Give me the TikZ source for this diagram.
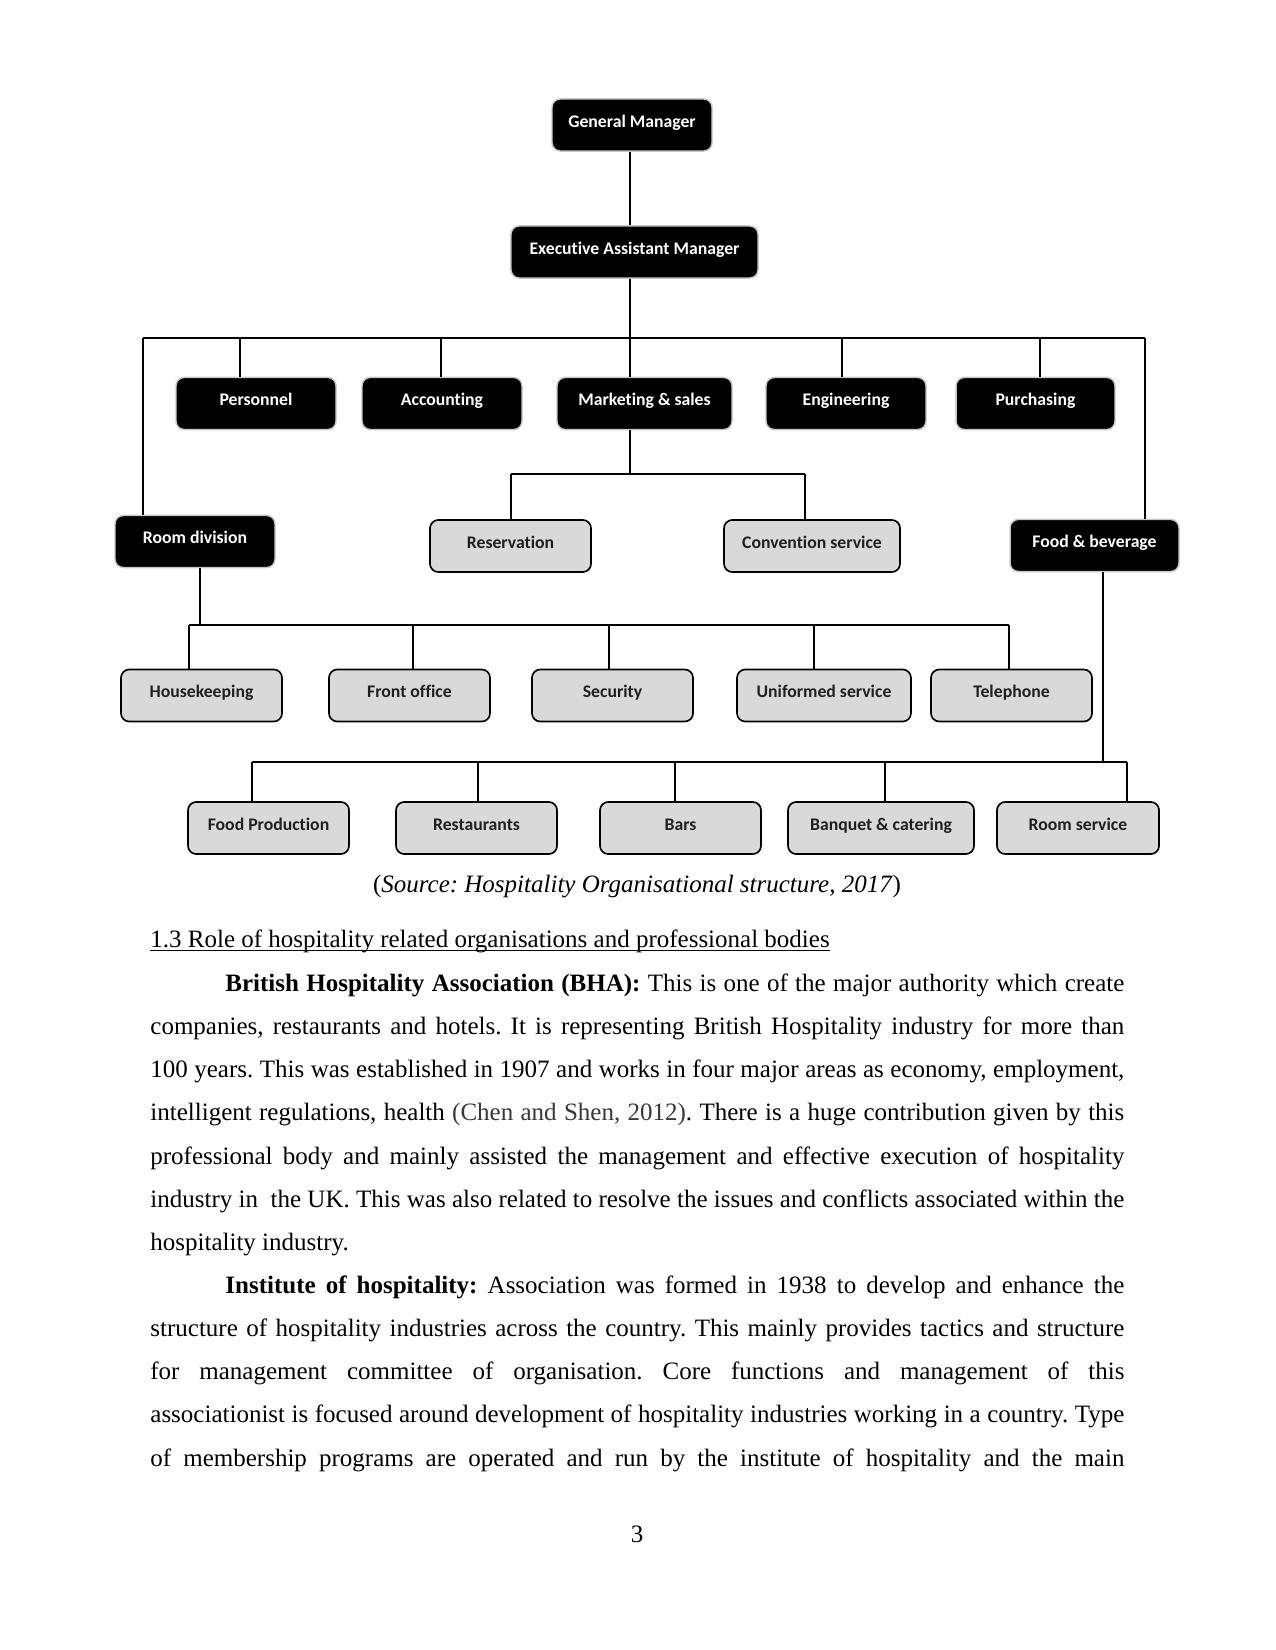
\documentclass[tikz,border=0pt]{standalone}
\usepackage{fontspec}
\setmainfont{Liberation Serif}
\newfontfamily\boxfont[Ligatures=NoCommon]{Carlito}
\begin{document}
\frenchspacing
\begin{tikzpicture}[x=0.48pt,y=-0.48pt,
  base/.style={rounded corners=4pt, minimum height=25pt, text height=6pt, text depth=4pt, inner sep=0pt,
    font=\boxfont\bfseries\fontsize{8.5}{10}\selectfont},
  dark/.style={base, fill=black, draw=black!22, line width=0.7pt, text=white},
  light/.style={base, fill=black!15, draw=black, line width=0.8pt, text=black!88},
  link/.style={draw=black, line width=0.7pt},
  textline/.style={anchor=base west, inner sep=0pt, font=\fontsize{12}{14}\selectfont\frenchspacing}
]
\useasboundingbox[fill=white] (0,0) rectangle (1275,1650);

% level 0-1
\node[dark, minimum width=76.8pt] (gm) at (632,125) {General Manager};
\node[dark, minimum width=118.6pt] (eam) at (634.5,252) {Executive Assistant Manager};
% level 2
\node[dark, minimum width=76.8pt] (pers) at (256,403.5) {Personnel};
\node[dark, minimum width=76.8pt] (acc) at (442,403.5) {Accounting};
\node[dark, minimum width=84pt] (mkt) at (644.5,403.5) {Marketing \& sales};
\node[dark, minimum width=76.8pt] (eng) at (846,403.5) {Engineering};
\node[dark, minimum width=76.3pt] (pur) at (1035.5,403.5) {Purchasing};
% level 3
\node[dark, minimum width=76.8pt] (room) at (195,541.5) {Room division};
\node[light, minimum width=77.3pt] (res) at (510.5,546) {Reservation};
\node[light, minimum width=84.5pt] (conv) at (812,546) {Convention service};
\node[dark, minimum width=81.1pt] (fb) at (1094.5,545.5) {Food \& beverage};
% level 4
\node[light, minimum width=77.3pt] (hk) at (201.5,695.5) {Housekeeping};
\node[light, minimum width=77.3pt] (fo) at (409.5,695.5) {Front office};
\node[light, minimum width=77.3pt] (sec) at (612.5,695.5) {Security};
\node[light, minimum width=83.5pt] (uni) at (824,695.5) {Uniformed service};
\node[light, minimum width=77.3pt] (tel) at (1011.5,695.5) {Telephone};
% level 5
\node[light, minimum width=77.3pt] (fp) at (268.5,828) {Food Production};
\node[light, minimum width=77.3pt] (rest) at (476.5,828) {Restaurants};
\node[light, minimum width=77.3pt] (bars) at (680.5,828) {Bars};
\node[light, minimum width=89.3pt] (banq) at (881,828) {Banquet \& catering};
\node[light, minimum width=77.8pt] (rs) at (1078,828) {Room service};

% connectors
\coordinate (j0) at (630,338);
\coordinate (busL) at (143,338);
\coordinate (busR) at (1145,338);
\draw[link] (gm.south -| j0) -- (eam.north -| j0);
\draw[link] (eam.south -| j0) -- (mkt.north -| j0);
\draw[link] (busL) -- (busR);
\draw[link] (busL) -- (busL |- room.north);
\draw[link] (busR) -- (busR |- fb.north);
\foreach \x/\n in {240/pers, 441/acc, 842/eng, 1040/pur}
  \draw[link] (\x,338) -- (\x,338 |- \n.north);

\coordinate (mL) at (511,474);
\coordinate (mR) at (805,474);
\draw[link] (mkt.south -| j0) -- (mL -| j0);
\draw[link] (mL) -- (mR);
\draw[link] (mL) -- (mL |- res.north);
\draw[link] (mR) -- (mR |- conv.north);

\coordinate (r0) at (200,625);
\coordinate (rL) at (189,625);
\coordinate (rR) at (1009,625);
\draw[link] (room.south -| r0) -- (r0);
\draw[link] (rL) -- (rR);
\foreach \x/\n in {189/hk, 413/fo, 609/sec, 814/uni, 1009/tel}
  \draw[link] (\x,625) -- (\x,625 |- \n.north);

\coordinate (f0) at (1103,762);
\coordinate (fL) at (252,762);
\coordinate (fR) at (1127,762);
\draw[link] (fb.south -| f0) -- (f0);
\draw[link] (fL) -- (fR);
\foreach \x/\n in {252/fp, 478/rest, 675/bars, 885/banq, 1127/rs}
  \draw[link] (\x,762) -- (\x,762 |- \n.north);

% text
\node[textline, anchor=base] (cap) at (637,892.5) {(\textit{Source: Hospitality Organisational structure, 2017})};
\node[textline] (head) at (150,947.5) {1.3 Role of hospitality related organisations and professional bodies};
\draw[line width=0.6pt] ([yshift=-1.6pt]head.base west) -- ([yshift=-1.6pt]head.base east);

\node[textline] (l1) at (225,991.5) {\makebox[431.5pt][s]{\textbf{British Hospitality Association (BHA):} This is one of the major authority which create}};
\node[textline] (l2) at (150,1034.6) {\makebox[467.5pt][s]{companies, restaurants and hotels. It is representing British Hospitality industry for more than}};
\node[textline] (l3) at (150,1077.8) {\makebox[467.5pt][s]{100 years. This was established in 1907 and works in four major areas as economy, employment,}};
\node[textline] (l4) at (150,1120.9) {\makebox[467.5pt][s]{intelligent regulations, health {\color{black!78}(Chen and Shen, 2012)}. There is a huge contribution given by this}};
\node[textline] (l5) at (150,1164.0) {\makebox[467.5pt][s]{professional body and mainly assisted the management and effective execution of hospitality}};
\node[textline] (l6) at (150,1207.2) {\makebox[467.5pt][s]{industry in\ \ the UK. This was also related to resolve the issues and conflicts associated within the}};
\node[textline] (l7) at (150,1250.3) {hospitality industry.};
\node[textline] (l8) at (225,1293.4) {\makebox[431.5pt][s]{\textbf{Institute of hospitality:} Association was formed in 1938 to develop and enhance the}};
\node[textline] (l9) at (150,1336.6) {\makebox[467.5pt][s]{structure of hospitality industries across the country. This mainly provides tactics and structure}};
\node[textline] (l10) at (150,1379.7) {\makebox[467.5pt][s]{for management committee of organisation. Core functions and management of this}};
\node[textline] (l11) at (150,1422.8) {\makebox[467.5pt][s]{associationist is focused around development of hospitality industries working in a country. Type}};
\node[textline] (l12) at (150,1466.0) {\makebox[467.5pt][s]{of membership programs are operated and run by the institute of hospitality and the main}};
\node[textline, anchor=base] (pg) at (637,1542) {3};
\end{tikzpicture}
\end{document}
